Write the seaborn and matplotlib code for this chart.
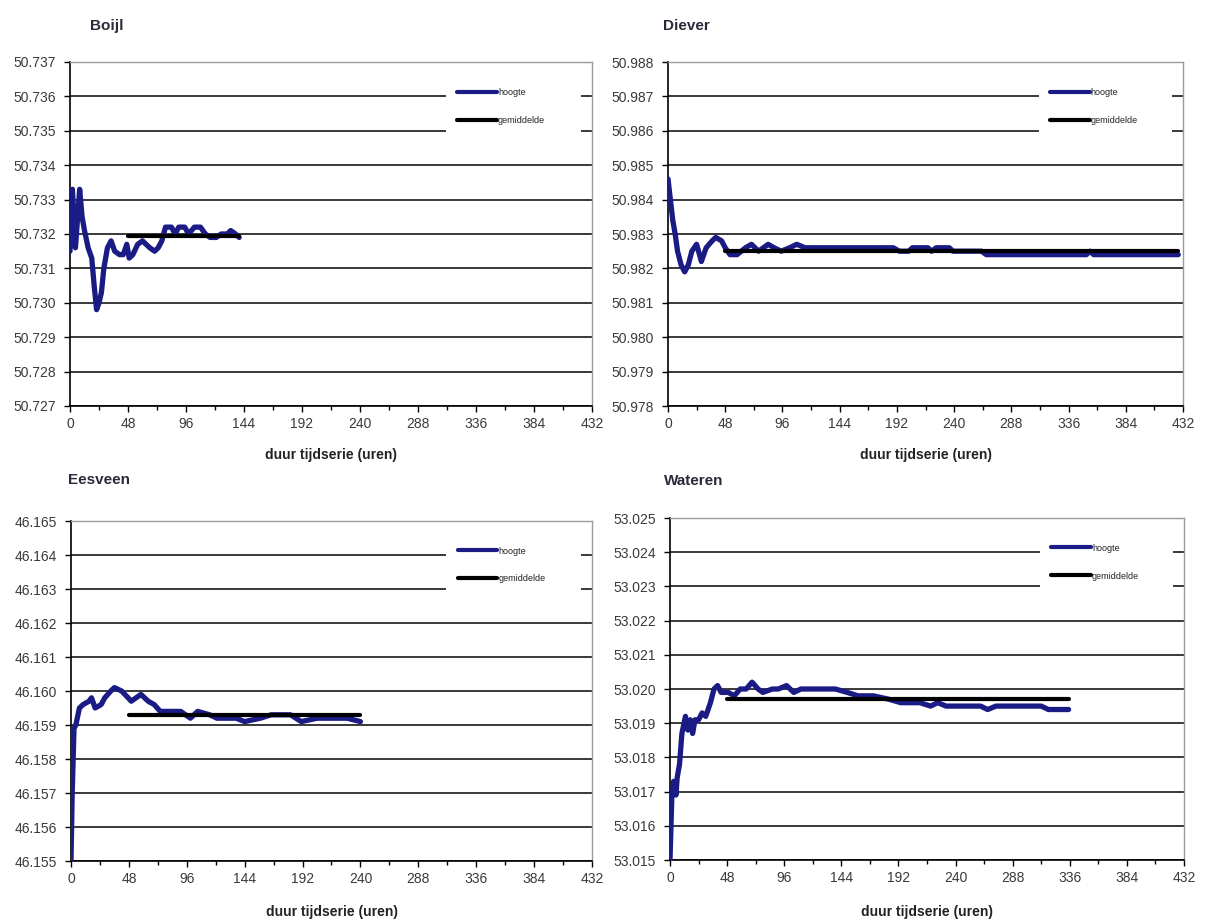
import numpy as np
import pandas as pd
import matplotlib
matplotlib.use("Agg")
import matplotlib.pyplot as plt
from matplotlib.patches import Rectangle
from matplotlib.ticker import FormatStrFormatter, MultipleLocator
import seaborn as sns

# ---- data: running height per station (m) against series length (hours) ----
stations = ["Boijl", "Diever", "Eesveen", "Wateren"]

boijl_uren = [0, 2, 4.5, 8, 10, 12, 15, 18, 20, 22, 24, 26, 28, 31, 34, 37, 41, 44, 47, 49,
              52, 56, 60, 63, 66, 70, 73, 76, 79, 84, 87, 90, 95, 98, 103, 108, 112, 116, 121,
              125, 130, 133, 137, 140]
boijl_hoogte = [50.7315, 50.7333, 50.7316, 50.7333, 50.7325, 50.7321, 50.7316, 50.7313, 50.7305,
                50.7298, 50.7300, 50.7303, 50.7310, 50.7316, 50.7318, 50.7315, 50.7314, 50.7314,
                50.7317, 50.7313, 50.7314, 50.7317, 50.7318, 50.7317, 50.7316, 50.7315, 50.7316,
                50.7318, 50.7322, 50.7322, 50.7320, 50.7322, 50.7322, 50.7320, 50.7322, 50.7322,
                50.7320, 50.7319, 50.7319, 50.7320, 50.7320, 50.7321, 50.7320, 50.7319]
boijl_gemiddelde = 50.73195
boijl_gem_uren = [48, 140]

diever_uren = [0, 2, 4, 6, 8, 11, 14, 17, 20, 24, 28, 32, 37, 40, 45, 48, 52, 58, 65, 70,
               76, 84, 89, 95, 102, 108, 115, 124, 137, 153, 170, 189, 194, 202, 205, 218, 221,
               225, 236, 239, 263, 267, 351, 354, 357, 428]
diever_hoogte = [50.98460, 50.98400, 50.98340, 50.98300, 50.98250, 50.98210, 50.98190, 50.98210,
                 50.98250, 50.98270, 50.98220, 50.98260, 50.98280, 50.98290, 50.98280, 50.98260,
                 50.98240, 50.98240, 50.98260, 50.98270, 50.98250, 50.98270, 50.98260, 50.98250,
                 50.98260, 50.98270, 50.98260, 50.98260, 50.98260, 50.98260, 50.98260, 50.98260,
                 50.98250, 50.98250, 50.98260, 50.98260, 50.98250, 50.98260, 50.98260, 50.98250,
                 50.98250, 50.98240, 50.98240, 50.98250, 50.98240, 50.98240]
diever_gemiddelde = 50.98250
diever_gem_uren = [48, 428]

eesveen_uren = [0, 1, 2.5, 4, 7, 10, 15, 17, 20, 25, 28, 33, 36, 42, 50, 58, 64, 69, 74, 86,
                91, 99, 105, 115, 121, 137, 144, 157, 166, 174, 182, 191, 204, 216, 229, 240]
eesveen_hoogte = [46.1550, 46.1570, 46.1589, 46.1590, 46.1595, 46.1596, 46.1597, 46.1598, 46.1595,
                  46.1596, 46.1598, 46.1600, 46.1601, 46.1600, 46.1597, 46.1599, 46.1597, 46.1596,
                  46.1594, 46.1594, 46.1594, 46.1592, 46.1594, 46.1593, 46.1592, 46.1592, 46.1591,
                  46.1592, 46.1593, 46.1593, 46.1593, 46.1591, 46.1592, 46.1592, 46.1592, 46.1591]
eesveen_gemiddelde = 46.1593
eesveen_gem_uren = [48, 240]

wateren_uren = [0, 1.5, 3, 5, 6, 8, 10, 13, 15, 17, 19, 21, 24, 27, 30, 34, 37, 40, 43, 49,
                54, 59, 64, 69, 74, 78, 86, 91, 98, 104, 110, 120, 133, 139, 149, 158, 171, 184,
                194, 210, 219, 225, 232, 245, 261, 267, 274, 293, 312, 318, 335]
wateren_hoogte = [53.0150, 53.0168, 53.0173, 53.0169, 53.0174, 53.0178, 53.0187, 53.0192, 53.0188,
                  53.0191, 53.0187, 53.0191, 53.0191, 53.0193, 53.0192, 53.0196, 53.0200, 53.0201,
                  53.0199, 53.0199, 53.0198, 53.0200, 53.0200, 53.0202, 53.0200, 53.0199, 53.0200,
                  53.0200, 53.0201, 53.0199, 53.0200, 53.0200, 53.0200, 53.0200, 53.0199, 53.0198,
                  53.0198, 53.0197, 53.0196, 53.0196, 53.0195, 53.0196, 53.0195, 53.0195, 53.0195,
                  53.0194, 53.0195, 53.0195, 53.0195, 53.0194, 53.0194]
wateren_gemiddelde = 53.0197
wateren_gem_uren = [48, 335]

y_ranges = {"Boijl": (50.727, 50.737), "Diever": (50.978, 50.988),
            "Eesveen": (46.155, 46.165), "Wateren": (53.015, 53.025)}
x_ticks = list(range(0, 433, 48))
x_label = "duur tijdserie (uren)"
legend_labels = ["hoogte", "gemiddelde"]

series = {
    "Boijl": (boijl_uren, boijl_hoogte, boijl_gem_uren, boijl_gemiddelde),
    "Diever": (diever_uren, diever_hoogte, diever_gem_uren, diever_gemiddelde),
    "Eesveen": (eesveen_uren, eesveen_hoogte, eesveen_gem_uren, eesveen_gemiddelde),
    "Wateren": (wateren_uren, wateren_hoogte, wateren_gem_uren, wateren_gemiddelde),
}

# ---- style ----
sns.set_style("white")
plt.rcParams["font.family"] = ["Liberation Sans", "DejaVu Sans"]

W, H = 1208, 922
fig = plt.figure(figsize=(W / 100, H / 100), dpi=100)

# panel boxes in pixels: left, right, top, bottom; title (x, y); x-label centre y
panels = {
    "Boijl":   dict(box=(70, 592, 62, 406),   title=(90, 26),   xlab=455),
    "Diever":  dict(box=(668, 1183, 62, 406), title=(663, 26),  xlab=455),
    "Eesveen": dict(box=(71, 592, 521, 861),  title=(68, 480),  xlab=912),
    "Wateren": dict(box=(670, 1184, 518, 860), title=(664, 481), xlab=912),
}

hoogte_color = "#1b1b85"
grid_color = "#2a2a2a"
text_color = "#3a3a3a"

for name in stations:
    uren, hoogte, gem_uren, gem = series[name]
    l, r, t, b = panels[name]["box"]
    ax = fig.add_axes([l / W, 1 - b / H, (r - l) / W, (b - t) / H])

    df_h = pd.DataFrame({"uren": uren, "hoogte": hoogte})
    df_g = pd.DataFrame({"uren": gem_uren, "gemiddelde": [gem] * len(gem_uren)})

    sns.lineplot(data=df_h, x="uren", y="hoogte", ax=ax, color=hoogte_color,
                 linewidth=3.8, label=legend_labels[0], estimator=None, zorder=3)
    sns.lineplot(data=df_g, x="uren", y="gemiddelde", ax=ax, color="black",
                 linewidth=3.0, label=legend_labels[1], estimator=None, zorder=4)

    lo, hi = y_ranges[name]
    ax.set_xlim(0, 432)
    ax.set_ylim(lo, hi)
    ax.set_yticks(np.round(np.linspace(lo, hi, 11), 3))
    ax.yaxis.set_major_formatter(FormatStrFormatter("%.3f"))
    ax.set_xticks(x_ticks)
    ax.xaxis.set_minor_locator(MultipleLocator(24))

    # horizontal grid only
    ax.set_axisbelow(True)
    ax.yaxis.grid(True, color=grid_color, linewidth=1.3)
    ax.xaxis.grid(False)
    ax.yaxis.get_major_ticks()[-1].gridline.set_visible(False)

    for side in ("left", "bottom"):
        ax.spines[side].set_color("black")
        ax.spines[side].set_linewidth(1.2)
    for side in ("top", "right"):
        ax.spines[side].set_color("#9a9a9a")
        ax.spines[side].set_linewidth(1.0)

    ax.tick_params(axis="y", which="major", direction="out", length=4, width=1,
                   color="black", pad=6, labelsize=10, labelcolor=text_color, left=True)
    ax.tick_params(axis="x", which="major", direction="out", length=4, width=1,
                   color="black", pad=4, labelsize=10, labelcolor=text_color, bottom=True)
    ax.tick_params(axis="x", which="minor", direction="out", length=3, width=1,
                   color="black", bottom=True)

    ax.set_ylabel("")
    ax.set_xlabel(x_label, fontsize=10, fontweight="bold", color="#222222")
    ax.xaxis.label.set_va("center")
    ax.xaxis.set_label_coords(0.5, (b - panels[name]["xlab"]) / (b - t))

    # legend on a white patch that interrupts the grid lines
    ax.add_patch(Rectangle((0.72, 0.76), 0.258, 0.19, transform=ax.transAxes,
                           facecolor="white", edgecolor="none", zorder=1))
    leg = ax.legend(loc="upper left", bbox_to_anchor=(0.742, 0.925), frameon=False,
                    fontsize=6.5, handlelength=4.4, handletextpad=0.1,
                    labelspacing=2.1, borderpad=0, borderaxespad=0)
    for line in leg.get_lines():
        line.set_linewidth(3.0)
    for txt in leg.get_texts():
        txt.set_color("#222222")

    tx, ty = panels[name]["title"]
    fig.text(tx / W, 1 - ty / H, name, fontsize=11, fontweight="bold",
             color="#2a2a3a", ha="left", va="center")

fig.savefig("out.png", dpi=100, facecolor="white")
